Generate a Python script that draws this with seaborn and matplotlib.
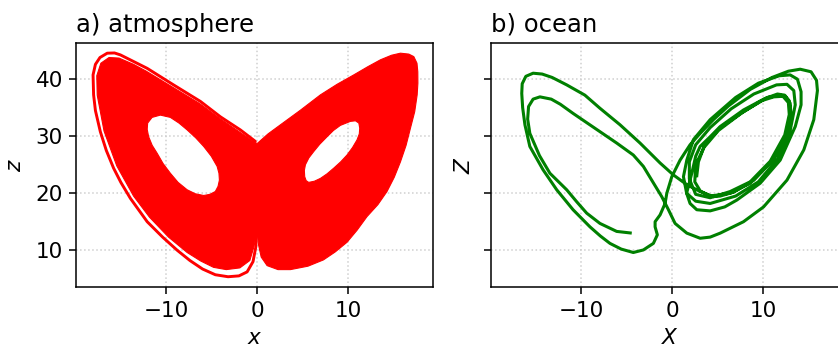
import matplotlib
matplotlib.use("Agg")
import numpy as np
import pandas as pd
import matplotlib.pyplot as plt
import seaborn as sns
from matplotlib.path import Path
from matplotlib.patches import PathPatch

# ---------------- data ----------------
# b) ocean trajectory (X, Z), in drawing order
ocean_x = [2.7, 2.9, 3.6, 5.3, 7.86, 10.5, 11.9, 12.5, 13.0, 13.1, 12.65, 10.8, 8.6, 6.4, 4.19, 3.1,
           2.5, 2.6, 3.5, 5.1, 7.6, 9.8, 11.2, 12.2, 12.8, 12.9, 12.4, 10.8, 8.6, 6.4, 4.19, 2.6,
           1.9, 1.9, 2.6, 4.19, 6.5, 9.0, 11.5, 12.65, 13.4, 13.56, 13.0, 11.6, 9.5, 7.0, 4.19, 2.6, 1.6,
           1.25, 1.62, 2.35, 4.19, 7.0, 9.5, 11.8, 13.0, 13.8, 14.2, 14.2, 13.56, 11.9, 9.7, 7.13, 5.8,
           4.19, 2.72, 1.98, 1.6,
           2.17, 2.6, 3.09, 4.19, 5.3, 7.86, 10.2, 11.6, 12.4, 12.9, 13.0, 12.7, 11.2, 9.0, 6.8, 5.3, 4.55,
           3.09, 1.62, 0.15, -1.32, -3.53, -5.73, -7.94, -9.6, -11.6, -13.2, -14.3, -15.3, -16.1, -16.5,
           -16.55, -16.45, -16.2, -15.66, -14.2, -12.7, -10.9, -9.04, -7.9, -6.84, -5.6, -4.27, -3.16,
           -2.06, -1.62, -1.87, -1.87, -1.32, -0.77, -0.58, -0.03, 0.88, 1.98, 3.09, 4.55, 6.2, 8.6, 11.0,
           12.8, 14.1, 15.3, 15.9, 16.0, 15.6, 14.5, 12.65, 10.07, 7.86, 5.3, 4.19, 3.09, 1.62, 0.33,
           -0.4, -1.14, -2.06, -3.16, -4.27, -6.1, -7.94, -9.04, -10.9, -12.3, -13.3, -14.55, -15.3,
           -15.8, -15.9, -15.66, -14.6, -13.45, -11.6, -10.5, -9.4, -7.94, -6.1, -4.44]
ocean_z = [22.8, 25.5, 28.5, 31.5, 34.3, 36.8, 37.2, 36.9, 35.8, 33.5, 29.9, 25.3, 21.75, 20.0, 19.5, 20.4,
           22.0, 25.0, 28.0, 31.0, 34.0, 36.2, 36.9, 37.0, 35.9, 33.8, 30.2, 25.6, 22.0, 20.3, 19.2, 19.8,
           22.5, 25.5, 28.5, 31.5, 34.8, 37.4, 39.0, 39.1, 38.0, 35.5, 31.0, 26.0, 22.0, 19.5, 18.2, 18.6, 20.0,
           22.9, 25.8, 29.4, 32.9, 36.8, 39.3, 40.6, 40.75, 40.0, 37.8, 35.5, 31.7, 25.8, 21.75, 18.8, 17.6,
           16.9, 17.1, 18.2, 20.0,
           23.5, 26.5, 28.2, 29.9, 31.7, 34.6, 36.6, 37.4, 37.2, 36.2, 34.0, 30.5, 26.0, 22.3, 20.2, 19.5, 19.4,
           20.3, 21.5, 23.2, 25.3, 28.8, 32.0, 34.9, 37.2, 39.0, 40.3, 40.9, 41.05, 40.5, 39.2,
           37.5, 35.0, 32.0, 28.2, 24.1, 20.6, 17.1, 14.1, 12.5, 11.2, 10.2, 9.6, 10.05,
           11.2, 12.7, 14.1, 15.0, 16.2, 18.2, 20.0, 22.9, 25.8, 28.5, 30.5, 32.9, 35.3, 38.2, 40.3,
           41.4, 41.75, 41.3, 39.8, 38.0, 32.9, 27.6, 22.3, 17.6, 15.0, 13.0, 12.3, 12.1, 13.0, 14.7,
           17.1, 19.4, 21.8, 24.7, 26.7, 28.8, 30.8, 32.0, 34.0, 35.6, 36.5, 36.9, 36.5,
           35.2, 33.0, 30.5, 26.6, 23.5, 20.6, 18.5, 16.5, 14.7, 13.3, 13.0]

# a) atmosphere: outermost separate orbit of the left wing (x, z)
atm_loop_x = [0.0, -0.15, -0.45, -1.1, -2.0, -3.2, -4.6, -6.0, -7.4, -8.8, -10.4, -12.1, -13.95, -15.0,
              -15.8, -16.6, -17.26, -17.8, -18.0, -18.06, -17.8, -17.3, -16.5, -15.7, -15.05, -13.6,
              -12.1, -9.2, -6.24, -4.04, -1.84, -0.2]
atm_loop_z = [14.0, 10.5, 8.0, 6.2, 5.5, 5.35, 5.7, 6.7, 8.2, 10.0, 12.3, 15.0, 19.1, 21.9,
              24.4, 27.5, 30.8, 34.5, 37.25, 40.75, 42.6, 43.8, 44.56, 44.6, 44.26, 43.1,
              41.9, 39.0, 36.1, 33.4, 31.1, 29.1]

# a) atmosphere: envelope of the densely filled attractor (x, z)
atm_env_x = [0.0, 1.2, 2.57, 4.8, 6.97, 8.8, 10.64, 12.2, 13.58, 14.8, 15.78, 16.7, 17.25, 17.6, 17.69,
             17.7, 17.62, 17.35, 16.88, 16.4, 15.78, 15.1, 14.3, 13.3, 12.1, 11.0, 9.9, 8.6, 7.3, 5.6,
             3.67, 2.3, 1.1, 0.45, 0.15, 0.0, -0.35, -0.8, -1.9, -3.4, -4.8, -6.2, -7.7, -9.75, -11.85,
             -13.6, -15.45, -16.85, -17.6, -17.65, -17.2, -16.3, -15.2, -13.6, -12.2, -9.3, -6.3,
             -4.1, -1.9, -0.8]
atm_env_z = [28.7, 30.4, 32.0, 34.6, 37.25, 39.1, 40.75, 42.2, 43.4, 44.2, 44.56, 44.4, 43.96, 42.8, 41.3,
             39.3, 37.25, 34.3, 31.4, 28.4, 25.5, 22.8, 20.3, 18.0, 15.9, 13.5, 11.4, 9.7, 8.3, 7.2,
             6.6, 6.6, 7.3, 8.8, 11.0, 13.5, 10.6, 8.2, 6.9, 6.6, 7.0, 8.1, 9.6, 12.3, 15.8,
             19.5, 24.8, 30.9, 37.2, 40.6, 42.8, 43.8, 43.7, 42.6, 41.4, 38.6, 35.7,
             33.1, 30.7, 29.5]

# a) atmosphere: empty eyes of the two wings (x, z)
atm_hole_left_x = [-12.05, -11.56, -10.65, -9.55, -8.6, -7.7, -6.75, -5.88, -5.05, -4.4, -4.2, -4.15,
                   -4.3, -4.6, -5.2, -5.88, -6.8, -7.7, -8.7, -9.55, -10.35, -11.0, -11.55, -11.94, -12.1]
atm_hole_left_z = [32.3, 33.3, 33.7, 33.3, 32.3, 31.1, 29.7, 28.2, 26.5, 24.7, 23.5, 22.3,
                   21.2, 20.3, 19.8, 19.6, 19.9, 20.6, 21.9, 23.5, 25.2, 27.0, 28.4, 29.9, 31.2]
atm_hole_right_x = [10.83, 11.2, 11.3, 11.25, 11.0, 10.5, 9.9, 9.2, 8.44, 7.7, 6.97, 6.3, 5.68, 5.4,
                    5.24, 5.2, 5.32, 5.7, 6.23, 6.9, 7.7, 8.4, 9.17, 10.27]
atm_hole_right_z = [32.7, 32.3, 31.4, 30.4, 29.35, 28.0, 26.7, 25.5, 24.4, 23.4, 22.6, 22.1, 21.9, 22.2,
                    22.9, 24.0, 25.0, 26.2, 27.3, 28.6, 29.9, 31.0, 31.9, 32.6]

x_ticks = [-10, 0, 10]
z_ticks = [10, 20, 30, 40]
titles = ["a) atmosphere", "b) ocean"]
xlabels = ["$x$", "$X$"]
ylabels = ["$z$", "$Z$"]

# ---------------- style ----------------
sns.set_style("ticks")
plt.rcParams.update({
    "font.family": ["DejaVu Sans"],
    "axes.edgecolor": "black",
    "axes.linewidth": 1.1,
    "xtick.color": "black",
    "ytick.color": "black",
    "xtick.direction": "out",
    "ytick.direction": "out",
    "xtick.major.size": 4.8,
    "ytick.major.size": 4.8,
    "xtick.major.width": 1.1,
    "ytick.major.width": 1.1,
    "xtick.major.pad": 4.8,
    "ytick.major.pad": 4.8,
    "xtick.labelsize": 15.5,
    "ytick.labelsize": 15.5,
    "axes.labelsize": 15.5,
    "mathtext.fontset": "dejavusans",
    "text.color": "black",
    "axes.labelcolor": "black",
})

fig = plt.figure(figsize=(8.38, 3.46), dpi=100)
ax1 = fig.add_axes([0.0911, 0.1697, 0.4260, 0.7069])
ax2 = fig.add_axes([0.5863, 0.1697, 0.4260, 0.7069])


def ring(xs, zs, ccw):
    pts = list(zip(xs, zs))
    area = 0.0
    for (x0, y0), (x1, y1) in zip(pts, pts[1:] + pts[:1]):
        area += x0 * y1 - x1 * y0
    if (area > 0) != ccw:
        pts = pts[::-1]
    verts = pts + [pts[0]]
    codes = [Path.MOVETO] + [Path.LINETO] * (len(pts) - 1) + [Path.CLOSEPOLY]
    return verts, codes


verts, codes = [], []
for xs, zs, ccw in [(atm_env_x, atm_env_z, True),
                    (atm_hole_left_x, atm_hole_left_z, False),
                    (atm_hole_right_x, atm_hole_right_z, False)]:
    v, c = ring(xs, zs, ccw)
    verts += v
    codes += c
ax1.add_patch(PathPatch(Path(verts, codes), facecolor="red", edgecolor="red",
                        linewidth=0.8, joinstyle="round", zorder=2))

sns.lineplot(x=atm_loop_x, y=atm_loop_z, sort=False, estimator=None, color="red",
             linewidth=2.1, ax=ax1, zorder=3, solid_joinstyle="round")
sns.lineplot(x=ocean_x, y=ocean_z, sort=False, estimator=None, color="green",
             linewidth=2.2, ax=ax2, zorder=3, solid_joinstyle="round", solid_capstyle="butt")

for i, ax in enumerate([ax1, ax2]):
    ax.set_xlim(-19.9, 19.4)
    ax.set_ylim(3.5, 46.4)
    ax.set_xticks(x_ticks)
    ax.set_yticks(z_ticks)
    ax.grid(True, linestyle=":", color="#cfcfcf", linewidth=1.1)
    ax.set_axisbelow(True)
    for s in ax.spines.values():
        s.set_visible(True)
        s.set_color("black")
    ax.set_title(titles[i], loc="left", fontsize=17.5, pad=8)
    ax.set_xlabel(xlabels[i], labelpad=5)
    ax.set_ylabel(ylabels[i], labelpad=7.5)

ax2.tick_params(axis="y", labelleft=False)

fig.savefig("out.png", dpi=100)
